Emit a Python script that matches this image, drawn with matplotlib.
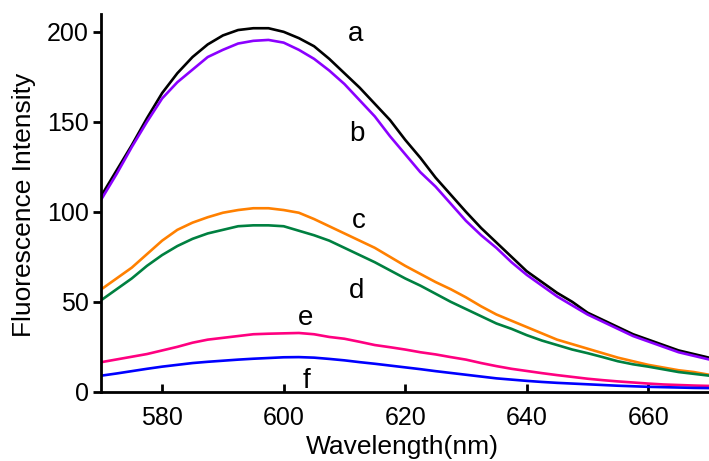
import numpy as np
import matplotlib
matplotlib.use("Agg")
import matplotlib.pyplot as plt

plt.rcParams["font.family"] = ["Liberation Sans", "DejaVu Sans"]

wavelength = [570, 572.5, 575, 577.5, 580, 582.5, 585, 587.5, 590, 592.5,
              595, 597.5, 600, 602.5, 605, 607.5, 610, 612.5, 615, 617.5,
              620, 622.5, 625, 627.5, 630, 632.5, 635, 637.5, 640, 642.5,
              645, 647.5, 650, 652.5, 655, 657.5, 660, 662.5, 665, 667.5, 670]
curve_a = [109, 123, 137, 152, 166, 177, 186, 193, 198, 201,
           202, 202, 200, 196.5, 192, 185, 177, 169, 160, 151,
           140, 130, 119, 109.5, 100, 91, 83, 75, 67, 61,
           55, 50, 44, 40, 36, 32, 29, 26, 23, 21, 19]
curve_b = [107, 121, 136, 150, 163, 172, 179, 186, 190, 193.5,
           195, 195.5, 194, 190, 185, 178.5, 171, 162, 153, 142,
           132, 122, 114, 104.5, 95, 87, 80, 72, 65, 59,
           53, 48, 43, 39, 35, 31, 28, 25, 22, 20, 18]
curve_c = [57, 63, 69, 76.5, 84, 90, 94, 97, 99.5, 101,
           102, 102, 101, 99.5, 96, 92, 88, 84, 80, 75,
           70, 65.5, 61, 57, 52.5, 47.5, 43, 39.5, 36, 32.5,
           29, 26.5, 24, 21.5, 19, 17, 15, 13.5, 12, 11, 9.5]
curve_d = [51, 57, 63, 70, 76, 81, 85, 88, 90, 92,
           92.5, 92.5, 92, 89.5, 87, 84, 80, 76, 72, 67.5,
           63, 59, 54.5, 50, 46, 42, 38, 35, 31.5, 28.5,
           26, 23.5, 21.5, 19.3, 17, 15.3, 14, 12.5, 11, 10, 9]
curve_e = [16.5, 18, 19.5, 21, 23, 25, 27.3, 29, 30, 31,
           32, 32.3, 32.5, 32.7, 32, 30.5, 29.5, 27.8, 26, 24.8,
           23.5, 22, 20.8, 19.3, 17.9, 16, 14.3, 12.8, 11.6, 10.4,
           9.3, 8.3, 7.3, 6.5, 5.8, 5.2, 4.6, 4.1, 3.8, 3.5, 3.3]
curve_f = [9, 10.2, 11.5, 12.8, 14, 15, 16, 16.7, 17.3, 17.9,
           18.4, 18.8, 19.2, 19.3, 19, 18.3, 17.5, 16.5, 15.6, 14.6,
           13.6, 12.6, 11.5, 10.5, 9.5, 8.5, 7.5, 6.8, 6.1, 5.5,
           5, 4.6, 4.2, 3.8, 3.4, 3.1, 2.8, 2.6, 2.4, 2.2, 2.1]

series = [curve_a, curve_b, curve_c, curve_d, curve_e, curve_f]
colors = ["#000000", "#8B00FF", "#FF8000", "#008040", "#FF0080", "#0000FF"]
letters = ["a", "b", "c", "d", "e", "f"]
label_pos = [(611.8, 199), (612, 143), (612.3, 95), (612, 56), (603.6, 41), (603.8, 6)]

fig = plt.figure(figsize=(7.09, 4.61), dpi=100)
ax = fig.add_axes([0.143, 0.150, 0.857, 0.820])

for y, c in zip(series, colors):
    ax.plot(wavelength, y, color=c, lw=1.9, solid_joinstyle="round")

for (x, y), t in zip(label_pos, letters):
    ax.text(x, y, t, fontsize=20, ha="center", va="center")

ax.set_xlim(570, 670)
ax.set_ylim(0, 210)
ax.set_xticks([580, 600, 620, 640, 660])
ax.set_yticks([0, 50, 100, 150, 200])

for s in ["top", "right"]:
    ax.spines[s].set_visible(False)
for s in ["left", "bottom"]:
    ax.spines[s].set_linewidth(2.0)

ax.tick_params(axis="x", direction="in", length=6, width=2, labelsize=18, pad=10)
ax.tick_params(axis="y", direction="out", length=6, width=2, labelsize=18, pad=3)

ax.set_xlabel("Wavelength(nm)", fontsize=19)
ax.set_ylabel("Fluorescence Intensity", fontsize=19)
ax.xaxis.set_label_coords(0.496, -0.113)
ax.yaxis.set_label_coords(-0.108, 0.495)

fig.savefig("out.png", dpi=100)
